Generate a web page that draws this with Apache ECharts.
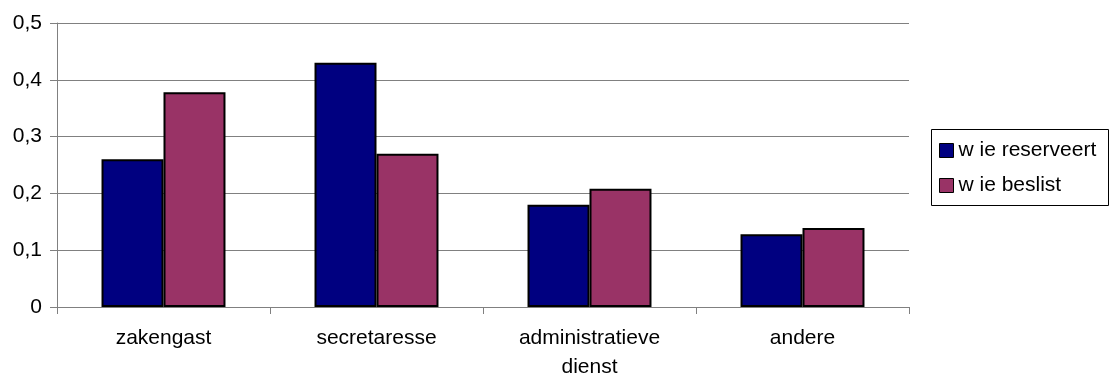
<!DOCTYPE html>
<html>
<head>
<meta charset="utf-8">
<script src="https://cdn.jsdelivr.net/npm/echarts@6/dist/echarts.min.js"></script>
<style>
html,body{margin:0;padding:0;background:#fff;}
#chart{width:1110px;height:382px;}
</style>
</head>
<body>
<div id="chart"></div>
<script>
const categories = ['zakengast', 'secretaresse', 'administratieve\ndienst', 'andere'];
const seriesNames = ['w ie reserveert', 'w ie beslist'];
const wieReserveert = [0.26, 0.43, 0.18, 0.128];
const wieBeslist = [0.378, 0.27, 0.208, 0.139];
const yTicks = { min: 0, max: 0.5, interval: 0.1 };
const colors = ['#000080', '#993366'];

const FONT = '"Liberation Sans", Arial, sans-serif';
const chart = echarts.init(document.getElementById('chart'), null, { renderer: 'canvas' });
chart.setOption({
  backgroundColor: '#ffffff',
  animation: false,
  color: colors,
  textStyle: { fontFamily: FONT, color: '#000' },
  grid: { left: 57, right: 201, top: 23, bottom: 71.5, containLabel: false },
  legend: {
    orient: 'vertical',
    left: 931,
    top: 129,
    padding: [11, 5, 11, 8],
    itemGap: 14,
    itemWidth: 14,
    itemHeight: 14,
    icon: 'rect',
    textStyle: { fontFamily: FONT, fontSize: 21, color: '#000', lineHeight: 20 },
    data: seriesNames,
    itemStyle: { borderColor: '#000', borderWidth: 1 }
  },
  graphic: [{
    type: 'rect',
    shape: { x: 931.5, y: 129.5, width: 177, height: 76 },
    style: { fill: 'none', stroke: '#000', lineWidth: 1 },
    silent: true
  }],
  xAxis: {
    type: 'category',
    data: categories,
    boundaryGap: true,
    axisLine: { show: true, lineStyle: { color: '#808080', width: 1 } },
    axisTick: { show: true, alignWithLabel: false, length: 7, lineStyle: { color: '#808080' } },
    axisLabel: { fontFamily: FONT, fontSize: 21, color: '#000', margin: 17, lineHeight: 29, interval: 0 },
    splitLine: { show: false }
  },
  yAxis: {
    type: 'value',
    min: yTicks.min,
    max: yTicks.max,
    interval: yTicks.interval,
    axisLine: { show: true, lineStyle: { color: '#808080', width: 1 } },
    axisTick: { show: true, length: 7, lineStyle: { color: '#808080' } },
    axisLabel: {
      fontFamily: FONT, fontSize: 21, color: '#000', margin: 15,
      formatter: v => String(Math.round(v * 10) / 10).replace('.', ',')
    },
    splitLine: { show: true, lineStyle: { color: '#808080', width: 1 } }
  },
  series: [
    {
      name: seriesNames[0], type: 'bar', data: wieReserveert,
      barGap: '0%', barCategoryGap: '41.8%',
      itemStyle: { color: colors[0], borderColor: '#000', borderWidth: 2 }
    },
    {
      name: seriesNames[1], type: 'bar', data: wieBeslist,
      barGap: '0%', barCategoryGap: '41.8%',
      itemStyle: { color: colors[1], borderColor: '#000', borderWidth: 2 }
    }
  ]
});
</script>
</body>
</html>
